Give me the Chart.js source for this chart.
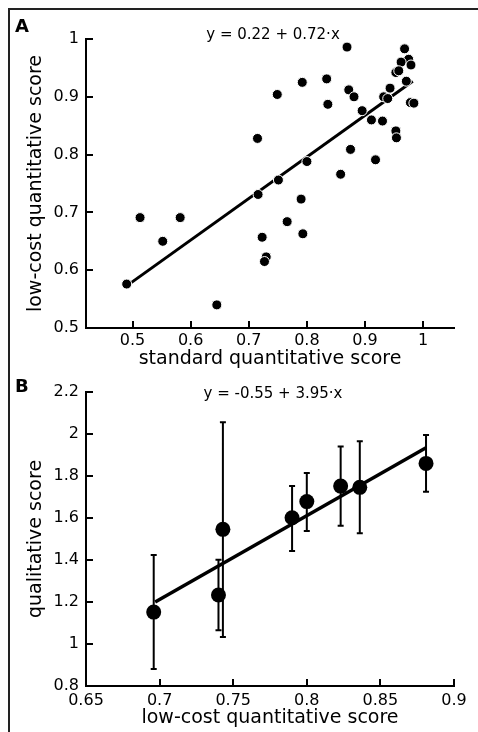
<!DOCTYPE html>
<html>
<head>
<meta charset="utf-8">
<script src="https://cdn.jsdelivr.net/npm/chart.js@4.4.1/dist/chart.umd.min.js"></script>
<style>
  html, body { margin: 0; padding: 0; background: #fff; }
  body { width: 478px; height: 732px; position: relative; overflow: hidden; }
  canvas { position: absolute; left: 0; }
  #chartA { top: 0; }
  #chartB { top: 370px; }
  .frame { position: absolute; left: 8px; top: 8px; right: -10px; bottom: -10px;
           border-top: 2px solid #222; border-left: 2px solid #222; }
</style>
</head>
<body>
<div class="frame"></div>
<canvas id="chartA" width="478" height="370"></canvas>
<canvas id="chartB" width="478" height="362"></canvas>
<script>
// panel A: standard vs low-cost quantitative score
const standardScore = [0.869, 0.968, 0.975, 0.962, 0.979, 0.953, 0.958, 0.971, 0.978, 0.984,
                       0.943, 0.932, 0.939, 0.930, 0.911, 0.953, 0.954, 0.895, 0.872, 0.881,
                       0.834, 0.836, 0.792, 0.749, 0.715, 0.800, 0.875, 0.918, 0.858, 0.751,
                       0.716, 0.790, 0.513, 0.582, 0.552, 0.490, 0.645, 0.723, 0.766, 0.793,
                       0.730, 0.727];
const lowCostScore = [0.986, 0.983, 0.965, 0.960, 0.955, 0.942, 0.945, 0.927, 0.890, 0.889,
                      0.915, 0.900, 0.897, 0.858, 0.860, 0.841, 0.829, 0.876, 0.912, 0.900,
                      0.931, 0.887, 0.925, 0.904, 0.828, 0.788, 0.809, 0.791, 0.766, 0.756,
                      0.731, 0.723, 0.691, 0.691, 0.650, 0.576, 0.540, 0.657, 0.684, 0.663,
                      0.623, 0.615];
const eqA = 'y = 0.22 + 0.72\u00b7x';
const fitAX = [0.493, 0.982];       // regression line ends
const fitAY = [0.575, 0.927];
const aXTicks = [0.5, 0.6, 0.7, 0.8, 0.9, 1];
const aYTicks = [0.5, 0.6, 0.7, 0.8, 0.9, 1];

// panel B: low-cost quantitative vs qualitative score
const lowCostMean = [0.696, 0.740, 0.743, 0.790, 0.800, 0.823, 0.836, 0.881];
const qualMean = [1.152, 1.233, 1.546, 1.601, 1.678, 1.752, 1.746, 1.860];
const qualLow  = [0.881, 1.065, 1.033, 1.443, 1.538, 1.563, 1.527, 1.725];
const qualHigh = [1.424, 1.401, 2.056, 1.752, 1.814, 1.941, 1.965, 1.995];
const eqB = 'y = -0.55 + 3.95\u00b7x';
const fitBX = [0.697, 0.881];
const fitBY = [1.200, 1.935];
const bXTicks = [0.65, 0.7, 0.75, 0.8, 0.85, 0.9];
const bYTicks = [0.8, 1, 1.2, 1.4, 1.6, 1.8, 2, 2.2];

Chart.defaults.font.family = '"DejaVu Sans", sans-serif';
Chart.defaults.font.size = 16;
Chart.defaults.color = '#000';

const FONT = '"DejaVu Sans", sans-serif';

const pairs = (xs, ys) => xs.map((x, i) => ({ x: x, y: ys[i] }));

// ticks drawn inside the axes
const inwardTicks = {
    id: 'inwardTicks',
    afterDraw(chart) {
        const { ctx, chartArea, scales } = chart;
        ctx.save();
        ctx.strokeStyle = '#000';
        ctx.lineWidth = 2;
        ctx.beginPath();
        scales.x.ticks.forEach(t => {
            const px = Math.round(scales.x.getPixelForValue(t.value));
            ctx.moveTo(px, chartArea.bottom);
            ctx.lineTo(px, chartArea.bottom - 7);
        });
        scales.y.ticks.forEach(t => {
            const py = Math.round(scales.y.getPixelForValue(t.value));
            ctx.moveTo(chartArea.left, py);
            ctx.lineTo(chartArea.left + 7, py);
        });
        ctx.stroke();
        ctx.restore();
    }
};

// panel letter + regression equation
const panelText = {
    id: 'panelText',
    afterDraw(chart, args, opts) {
        const { ctx, chartArea } = chart;
        ctx.save();
        ctx.fillStyle = '#000';
        ctx.textBaseline = 'alphabetic';
        ctx.font = 'bold 18px ' + FONT;
        ctx.textAlign = 'left';
        ctx.fillText(opts.letter, 15, opts.letterY);
        ctx.font = '15px ' + FONT;
        ctx.textAlign = 'center';
        ctx.fillText(opts.equation, (chartArea.left + chartArea.right) / 2 + 3, opts.eqY);
        ctx.restore();
    }
};

// vertical error bars with small caps (panel B)
const errorBars = {
    id: 'errorBars',
    beforeDatasetsDraw(chart) {
        const { ctx, scales: { x, y } } = chart;
        ctx.save();
        ctx.strokeStyle = '#000';
        ctx.lineWidth = 2;
        ctx.beginPath();
        lowCostMean.forEach((xv, i) => {
            const px = x.getPixelForValue(xv);
            const lo = y.getPixelForValue(qualLow[i]);
            const hi = y.getPixelForValue(qualHigh[i]);
            ctx.moveTo(px, lo); ctx.lineTo(px, hi);
            ctx.moveTo(px - 3, lo); ctx.lineTo(px + 3, lo);
            ctx.moveTo(px - 3, hi); ctx.lineTo(px + 3, hi);
        });
        ctx.stroke();
        ctx.restore();
    }
};

function axis(min, max, tickVals, size, pad, title, titlePad) {
    return {
        type: 'linear',
        min: min,
        max: max,
        afterBuildTicks: s => { s.ticks = tickVals.map(v => ({ value: v })); },
        afterFit: s => { if (s.isHorizontal()) s.height = size; else s.width = size; },
        grid: { display: false, drawTicks: false },
        border: { display: true, color: '#000', width: 2 },
        ticks: { padding: pad, font: { size: 16 }, callback: v => String(v) },
        title: { display: true, text: title, font: { size: 19 }, padding: titlePad }
    };
}

new Chart(document.getElementById('chartA'), {
    type: 'scatter',
    data: {
        datasets: [
            {
                data: pairs(standardScore, lowCostScore),
                backgroundColor: '#000',
                borderColor: '#fff',
                borderWidth: 1,
                pointRadius: 5
            },
            {
                type: 'line',
                data: pairs(fitAX, fitAY),
                borderColor: '#000',
                borderWidth: 3,
                pointRadius: 0,
                fill: false
            }
        ]
    },
    options: {
        responsive: false,
        animation: false,
        layout: { padding: { top: 39, right: 24, bottom: 0, left: 0 } },
        plugins: {
            legend: { display: false },
            tooltip: { enabled: false },
            panelText: { letter: 'A', letterY: 32, equation: eqA, eqY: 39 }
        },
        scales: {
            x: axis(0.42, 1.053, aXTicks, 42, 3, 'standard quantitative score', { top: 0, bottom: 0 }),
            y: axis(0.5, 1, aYTicks, 86, 7, 'low-cost quantitative score', { top: 25, bottom: 0 })
        }
    },
    plugins: [inwardTicks, panelText]
});

new Chart(document.getElementById('chartB'), {
    type: 'scatter',
    data: {
        datasets: [
            {
                data: pairs(lowCostMean, qualMean),
                backgroundColor: '#000',
                borderWidth: 0,
                pointRadius: 7.5
            },
            {
                type: 'line',
                data: pairs(fitBX, fitBY),
                borderColor: '#000',
                borderWidth: 3.5,
                pointRadius: 0,
                fill: false
            }
        ]
    },
    options: {
        responsive: false,
        animation: false,
        layout: { padding: { top: 22, right: 24, bottom: 0, left: 0 } },
        plugins: {
            legend: { display: false },
            tooltip: { enabled: false },
            panelText: { letter: 'B', letterY: 22, equation: eqB, eqY: 27.5 }
        },
        scales: {
            x: axis(0.65, 0.9, bXTicks, 46, 5.5, 'low-cost quantitative score', { top: 0, bottom: 3 }),
            y: axis(0.8, 2.2, bYTicks, 86, 7, 'qualitative score', { top: 25, bottom: 0 })
        }
    },
    plugins: [inwardTicks, panelText, errorBars]
});
</script>
</body>
</html>
